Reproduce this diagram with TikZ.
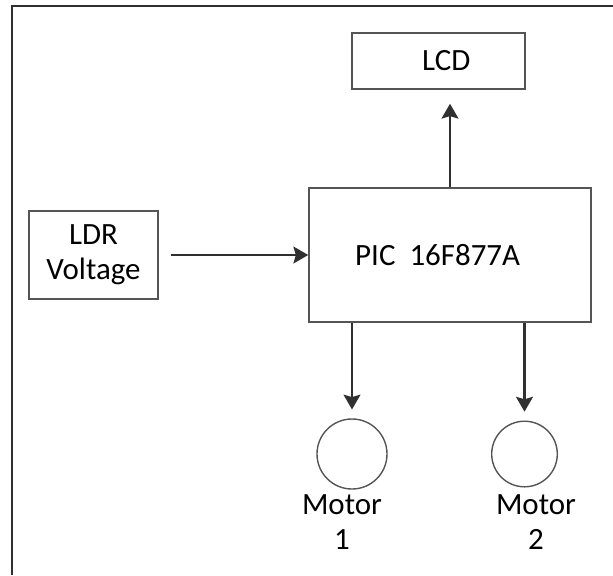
\documentclass[tikz,border=0pt]{standalone}
\usepackage{fontspec}
\setmainfont{Carlito}
\usetikzlibrary{arrows.meta}
\definecolor{boxgray}{HTML}{555555}
\definecolor{inkgray}{HTML}{303030}
\begin{document}
\begin{tikzpicture}[x=0.025cm,y=-0.025cm,>={Stealth[length=0.37cm,width=0.42cm,inset=0.06cm]},
	block/.style={draw=boxgray,line width=1pt,align=center,inner sep=0pt,text=black,font=\fontsize{22}{25}\selectfont},
	motor/.style={draw=boxgray,line width=1pt,circle,inner sep=0pt},
	tag/.style={align=center,text=black,font=\fontsize{22}{25}\selectfont},
	flow/.style={->,draw=inkgray,line width=1.7pt}]
			\useasboundingbox (0,0) rectangle (613,575);
			\draw[inkgray,line width=1.4pt] (12,575)--(12,6)--(613,6);
			\node[block,minimum width=4.325cm,minimum height=1.4cm] (lcd) at (438.5,61) {\hspace{0.5em}LCD};
			\node[block,minimum width=7.05cm,minimum height=3.35cm] (pic) at (450,255) {PIC~~16F877A\hspace{0.8em}};
			\node[block,minimum width=3.225cm,minimum height=2.2cm] (ldr) at (93.5,255) {LDR\\Voltage};
			\node[motor,minimum size=1.75cm] (m1) at (352,454) {};
			\node[motor,minimum size=1.64cm] (m2) at (524.5,454) {};
			\node[tag] (t1) at (342,522) {Motor\\1};
			\node[tag] (t2) at (536,522) {Motor\\2};
			\draw[flow,shorten >=0.35cm] (pic.north)--(pic.north |- lcd.south);
			\draw[flow,shorten <=0.3cm] (ldr.east)--(ldr.east -| pic.west);
			\draw[flow,shorten >=0.22cm] (m1.north |- pic.south)--(m1.north);
			\draw[flow,shorten >=0.22cm] (m2.north |- pic.south)--(m2.north);
		\end{tikzpicture}
\end{document}
